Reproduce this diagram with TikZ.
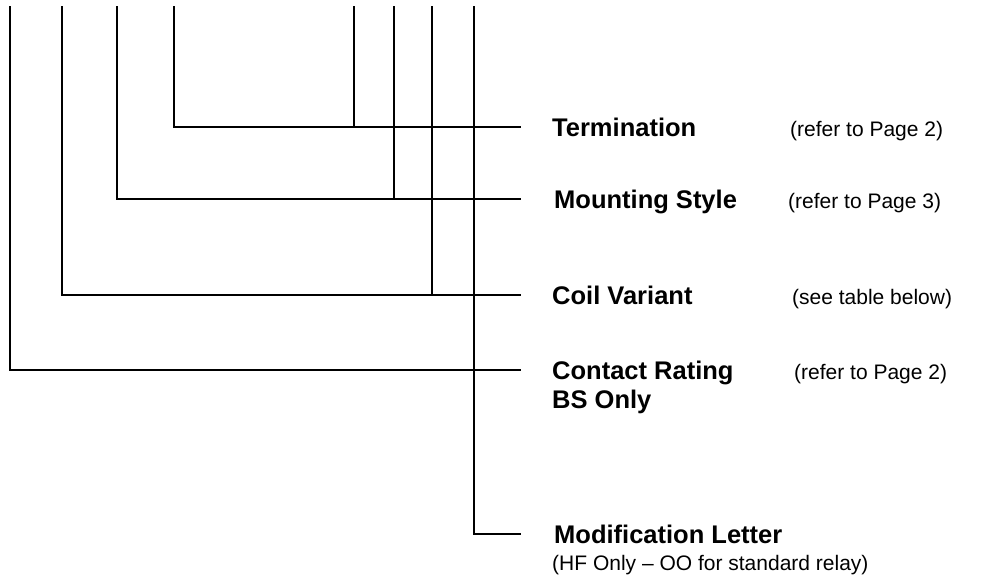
\documentclass[tikz,border=0pt]{standalone}
\usepackage{fontspec}
\setmainfont{Liberation Sans}
\usetikzlibrary{positioning}

\begin{document}
\begin{tikzpicture}[x=1pt,y=-1pt,
		lead/.style={line width=1.3pt},
		partname/.style={anchor=base west,inner sep=0pt,font=\fontsize{25.5}{29}\selectfont\bfseries},
		partref/.style={anchor=base west,inner sep=0pt,font=\fontsize{21}{25}\selectfont}]
			\useasboundingbox (0,0) rectangle (1002,584);

			%% tops of the leads
			\coordinate (p1) at (10,6);
			\coordinate (p2) at (62,6);
			\coordinate (p3) at (117,6);
			\coordinate (p4) at (174,6);
			\coordinate (p5) at (354,6);
			\coordinate (p6) at (394,6);
			\coordinate (p7) at (432,6);
			\coordinate (p8) at (474,6);

			%% ends of the leads
			\coordinate (e1) at (521,127);
			\coordinate (e2) at (521,199);
			\coordinate (e3) at (521,295);
			\coordinate (e4) at (521,370);
			\coordinate (e5) at (521,534);

			%% labels
			\node[partname] (term) at (552,136) {Termination};
			\node[partref] (termref) at (790,136) {(refer to Page 2)};
			\node[partname] (mount) at (554,208) {Mounting Style};
			\node[partref] (mountref) at (788,208) {(refer to Page 3)};
			\node[partname] (coil) at (552,304) {Coil Variant};
			\node[partref] (coilref) at (792,304) {(see table below)};
			\node[partname] (cont) at (552,379) {Contact Rating};
			\node[partname] (bs) at (552,408) {BS Only};
			\node[partref] (contref) at (794,379) {(refer to Page 2)};
			\node[partname] (mod) at (554,543) {Modification Letter};
			\node[partref] (modref) at (552,570) {(HF Only -- OO for standard relay)};

			%% lines
			\draw[lead] (p4) |- (e1);
			\draw[lead] (p5) -- (p5 |- e1);
			\draw[lead] (p3) |- (e2);
			\draw[lead] (p6) -- (p6 |- e2);
			\draw[lead] (p2) |- (e3);
			\draw[lead] (p7) -- (p7 |- e3);
			\draw[lead] (p1) |- (e4);
			\draw[lead] (p8) |- (e5);
		\end{tikzpicture}
\end{document}
